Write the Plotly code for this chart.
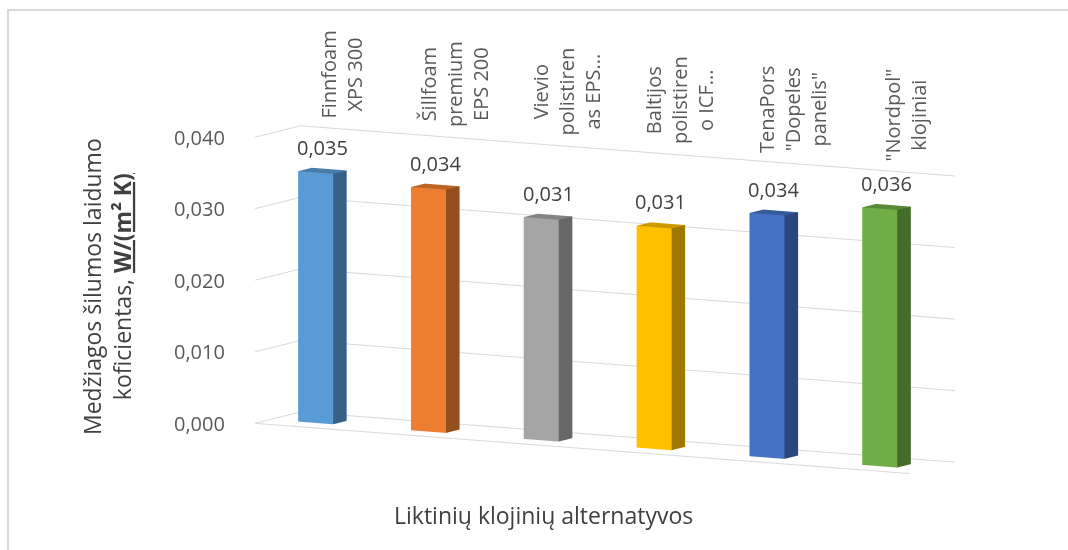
import plotly.graph_objects as go

categories = [
    "Finnfoam<br>XPS 300",
    "Šillfoam<br>premium<br>EPS 200",
    "Vievio<br>polistiren<br>as EPS...",
    "Baltijos<br>polistiren<br>o ICF...",
    "TenaPors<br>\"Dopeles<br>panelis\"",
    "\"Nordpol\"<br>klojiniai",
]
values = [0.035, 0.034, 0.031, 0.031, 0.034, 0.036]
tick_values = [0.000, 0.010, 0.020, 0.030, 0.040]
tick_labels = ["0,000", "0,010", "0,020", "0,030", "0,040"]
y_title = "Medžiagos šilumos laidumo<br>koficientas, <b><u>W/(m² K)</u></b>"
x_title = "Liktinių klojinių alternatyvos"

colors = ["#5B9BD5", "#ED7D31", "#A5A5A5", "#FFC000", "#4472C4", "#70AD47"]
FONT = "Open Sans"
TXT = "#595959"


def shade(hexc, f):
    h = hexc.lstrip("#")
    r, g, b = (int(h[i:i + 2], 16) for i in (0, 2, 4))
    return "#%02X%02X%02X" % (int(r * f), int(g * f), int(b * f))


BAR_W = 0.31
DEPTH0, DEPTH1 = 0.34, 0.64
fig = go.Figure()
for i, (v, c) in enumerate(zip(values, colors)):
    x0, x1 = i - BAR_W / 2, i + BAR_W / 2
    y0, y1 = DEPTH0, DEPTH1
    z0, z1 = 0.0, v
    xs = [x0, x1, x1, x0, x0, x1, x1, x0]
    ys = [y0, y0, y1, y1, y0, y0, y1, y1]
    zs = [z0, z0, z0, z0, z1, z1, z1, z1]
    I = [0, 0, 4, 4, 0, 0, 3, 3, 0, 0, 1, 1]
    J = [1, 2, 5, 6, 1, 5, 2, 6, 3, 7, 2, 6]
    K = [2, 3, 6, 7, 5, 4, 6, 7, 7, 4, 6, 5]
    front, top, side = c, shade(c, 0.8), shade(c, 0.63)
    fc = [c, c, top, top, front, front, c, c, c, c, side, side]
    fig.add_trace(go.Mesh3d(
        x=xs, y=ys, z=zs, i=I, j=J, k=K, facecolor=fc, flatshading=True,
        lighting=dict(ambient=1, diffuse=0, specular=0, fresnel=0, roughness=1),
        hoverinfo="skip", showscale=False,
    ))

n = len(values)
annotations3d = []
for i, v in enumerate(values):
    annotations3d.append(dict(
        x=i, y=(DEPTH0 + DEPTH1) / 2, z=v, text=f"{v:.3f}".replace(".", ","),
        showarrow=False, yanchor="bottom", yshift=8,
        font=dict(family=FONT, size=20, color="#404040"),
    ))
for i, cat in enumerate(categories):
    annotations3d.append(dict(
        x=i, y=0.9, z=tick_values[-1], text=cat, textangle=-90,
        showarrow=False, yanchor="bottom", xanchor="center", yshift=10,
        font=dict(family=FONT, size=20, color=TXT),
    ))
for t, lab in zip(tick_values, tick_labels):
    annotations3d.append(dict(
        x=-0.4, y=0, z=t, text=lab, showarrow=False, xanchor="right", xshift=-28,
        font=dict(family=FONT, size=20, color=TXT),
    ))

axis_common = dict(showbackground=False, showspikes=False, zeroline=False,
                   showticklabels=False, ticks="", title=dict(text=""))
fig.update_layout(
    width=1068, height=550, margin=dict(l=0, r=0, t=0, b=0),
    paper_bgcolor="white", showlegend=False,
    scene=dict(
        domain=dict(x=[0.133, 1.0], y=[0.0, 0.938]),
        xaxis=dict(range=[-0.4, n - 0.6], showgrid=False, showline=True,
                   linecolor="#D9D9D9", linewidth=2, **axis_common),
        yaxis=dict(range=[0, 1], showgrid=False, showline=False, **axis_common),
        zaxis=dict(range=[0, 0.04], tickvals=tick_values, showgrid=True,
                   gridcolor="#D9D9D9", gridwidth=2, showline=False, **axis_common),
        aspectmode="manual", aspectratio=dict(x=2.90, y=0.364, z=1.12),
        camera=dict(eye=dict(x=1.106, y=-1.996, z=0.349), center=dict(x=0, y=0, z=0.03),
                    up=dict(x=0, y=0, z=1), projection=dict(type="orthographic")),
        annotations=annotations3d,
        dragmode=False,
    ),
    annotations=[
        dict(x=107 / 1068, y=1 - 287 / 550, xref="paper", yref="paper", text=y_title,
             textangle=-90, showarrow=False, xanchor="center", yanchor="middle",
             font=dict(family=FONT, size=23, color="#404040")),
        dict(x=543 / 1068, y=1 - 515 / 550, xref="paper", yref="paper", text=x_title,
             showarrow=False, xanchor="center", yanchor="middle",
             font=dict(family=FONT, size=23, color="#404040")),
    ],
    shapes=[dict(type="rect", xref="paper", yref="paper", x0=8 / 1068, x1=1.05,
                 y0=-0.05, y1=1 - 10 / 550, line=dict(color="#D9D9D9", width=2))],
)
fig.write_html("out.html")
